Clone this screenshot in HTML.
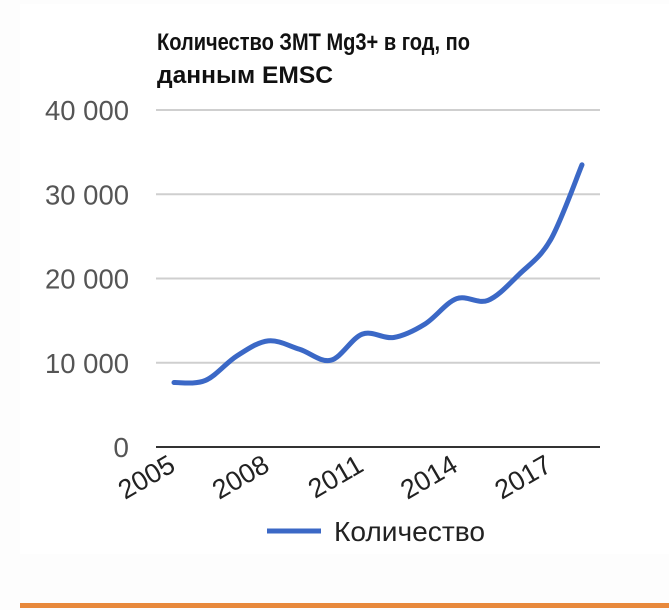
<!DOCTYPE html>
<html><head><meta charset="utf-8"><style>
html,body{margin:0;padding:0;background:#fff;}
svg{display:block;font-family:"Liberation Sans","Noto Sans CJK SC",sans-serif;}
</style></head><body>
<svg width="669" height="610" viewBox="0 0 669 610">
<rect x="0" y="0" width="669" height="610" fill="#fdfdfd"/>
<rect x="20" y="4" width="649" height="550" fill="#ffffff"/>
<text x="157" y="50" font-size="24" font-weight="bold" fill="#111" textLength="313" lengthAdjust="spacingAndGlyphs">Количество ЗМТ Mg3+ в год, по</text>
<text x="157" y="83" font-size="24" font-weight="bold" fill="#111" textLength="176" lengthAdjust="spacingAndGlyphs">данным EMSC</text>
<g id="grid"></g>
<g id="xlabels"></g>
<path id="series" fill="none" stroke="#3b68c6" stroke-width="5" stroke-linecap="round" stroke-linejoin="round"/>
<line x1="156" y1="447" x2="600" y2="447" stroke="#333" stroke-width="2"/>
<line x1="267" y1="531" x2="321" y2="531" stroke="#3b68c6" stroke-width="5"/>
<text x="334" y="541" font-size="28" fill="#222" textLength="151" lengthAdjust="spacingAndGlyphs">Количество</text>
<rect x="20" y="603" width="649" height="5" fill="#e8893c"/>
</svg>
<script>
const years = [2005,2006,2007,2008,2009,2010,2011,2012,2013,2014,2015,2016,2017,2018];
const counts = [7650,7900,10800,12600,11600,10300,13400,13000,14600,17600,17400,20500,24600,33500];
const yTicks = [0,10000,20000,30000,40000];
const yTickLabels = ["0","10 000","20 000","30 000","40 000"];
const xTickYears = [2005,2008,2011,2014,2017];

const NS="http://www.w3.org/2000/svg";
const x = y => 174 + (y-2005)*(582-174)/13;
const yv = v => 447 - v*(447-110)/40000;
const grid=document.getElementById('grid');
yTicks.forEach((t,i)=>{
  if(t>0){
    const l=document.createElementNS(NS,'line');
    l.setAttribute('x1',156);l.setAttribute('x2',600);
    l.setAttribute('y1',yv(t));l.setAttribute('y2',yv(t));
    l.setAttribute('stroke','#cfcfcf');l.setAttribute('stroke-width','2');
    
    
    grid.appendChild(l);
  }
  const tx=document.createElementNS(NS,'text');
  tx.setAttribute('x',129);tx.setAttribute('y',yv(t)+10);
  tx.setAttribute('text-anchor','end');tx.setAttribute('font-size','28');tx.setAttribute('fill','#555');
  if(t>0){tx.setAttribute('textLength','84');tx.setAttribute('lengthAdjust','spacingAndGlyphs');}
  tx.textContent=yTickLabels[i];
  
  
  grid.appendChild(tx);
});
const xl=document.getElementById('xlabels');
xTickYears.forEach(yr=>{
  const tx=document.createElementNS(NS,'text');
  const cx=x(yr)+3, cy=470;
  tx.setAttribute('x',cx);tx.setAttribute('y',cy);
  tx.setAttribute('text-anchor','end');tx.setAttribute('font-size','27');tx.setAttribute('fill','#222');
  tx.setAttribute('transform','rotate(-30 '+cx+' '+cy+')');
  tx.textContent=yr;
  
  
  xl.appendChild(tx);
});
const pts=years.map((yr,i)=>[x(yr),yv(counts[i])]);
let d='M'+pts[0][0]+','+pts[0][1];
for(let i=0;i<pts.length-1;i++){
  const p0=pts[i-1]||pts[i],p1=pts[i],p2=pts[i+1],p3=pts[i+2]||p2;
  const c1=[p1[0]+(p2[0]-p0[0])/6,p1[1]+(p2[1]-p0[1])/6];
  const c2=[p2[0]-(p3[0]-p1[0])/6,p2[1]-(p3[1]-p1[1])/6];
  d+=' C'+c1+' '+c2+' '+p2;
}
document.getElementById('series').setAttribute('d',d);
</script>
</body></html>
